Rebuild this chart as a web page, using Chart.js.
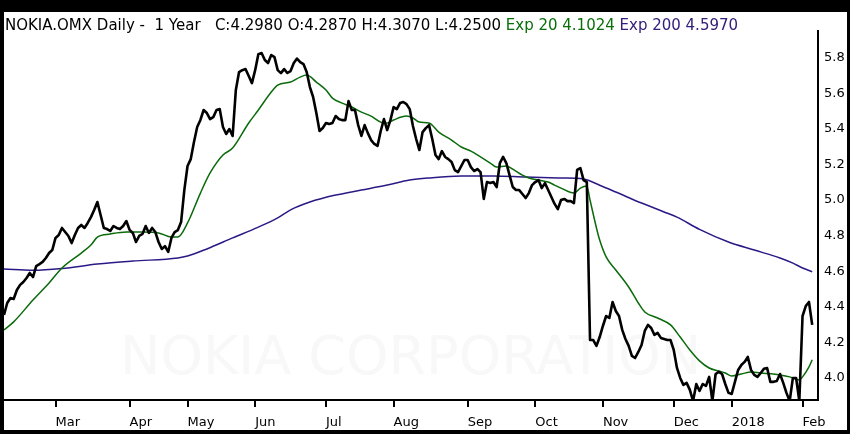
<!DOCTYPE html>
<html>
<head>
<meta charset="utf-8">
<script src="https://cdn.jsdelivr.net/npm/chart.js@4.4.1/dist/chart.umd.min.js"></script>
<style>
  html, body { margin: 0; padding: 0; background: #000; }
  canvas { display: block; }
</style>
</head>
<body>
<canvas id="c" width="850" height="434"></canvas>
<script>
// ---- Data (trading-day index 0 = early Feb 2017) ----
const closes = [
4.354,4.421,4.449,4.444,4.494,4.523,4.539,4.562,4.590,4.567,
4.629,4.640,4.652,4.674,4.702,4.719,4.787,4.803,4.843,4.820,
4.798,4.758,4.803,4.843,4.860,4.843,4.871,4.904,4.944,4.989,
4.916,4.843,4.837,4.826,4.854,4.843,4.837,4.854,4.882,4.832,
4.815,4.764,4.798,4.809,4.854,4.815,4.843,4.820,4.764,4.725,
4.741,4.708,4.787,4.820,4.831,4.876,5.056,5.191,5.230,5.326,
5.410,5.450,5.506,5.489,5.455,5.466,5.506,5.511,5.410,5.371,
5.399,5.360,5.618,5.719,5.730,5.736,5.697,5.657,5.730,5.820,
5.826,5.787,5.770,5.815,5.803,5.730,5.713,5.736,5.714,5.725,
5.770,5.795,5.775,5.764,5.719,5.635,5.579,5.489,5.388,5.405,
5.433,5.427,5.433,5.472,5.455,5.449,5.449,5.556,5.506,5.506,
5.421,5.360,5.421,5.376,5.337,5.315,5.304,5.388,5.455,5.393,
5.449,5.522,5.511,5.545,5.551,5.539,5.511,5.416,5.343,5.281,
5.382,5.404,5.421,5.343,5.253,5.230,5.275,5.242,5.230,5.214,
5.168,5.157,5.191,5.225,5.225,5.185,5.163,5.174,5.157,5.006,
5.101,5.096,5.101,5.073,5.208,5.242,5.208,5.140,5.073,5.056,
5.056,5.034,5.011,5.039,5.084,5.101,5.112,5.067,5.095,5.056,
5.017,4.978,4.949,5.000,5.006,4.994,4.994,4.983,5.169,5.180,
5.112,5.101,4.213,4.213,4.180,4.230,4.292,4.348,4.337,4.427,
4.376,4.348,4.270,4.219,4.180,4.124,4.112,4.146,4.185,4.264,
4.298,4.281,4.242,4.253,4.225,4.219,4.213,4.213,4.157,4.056,
4.000,3.961,3.972,3.933,3.870,3.966,3.927,3.966,3.955,4.006,
3.870,4.022,4.034,4.022,3.966,3.916,3.910,3.978,4.045,4.073,
4.090,4.118,4.045,4.017,4.006,4.028,4.051,4.056,3.978,3.978,
3.983,4.022,3.972,3.916,3.870,4.000,4.000,3.870,4.348,4.404,
4.427,4.298
];

const ema20Days = [0,3,9,14,18,24,27,29,33,38,43,48,52,54,57,61,64,68,71,76,79,83,85,89,92,94,97,100,102,105,108,111,114,117,119,121,125,127,129,132,135,139,142,145,148,151,153,156,158,161,163,166,169,171,173,177,179,181,182,184,185,187,190,194,197,199,203,207,210,213,216,219,222,224,226,229,232,235,239,241,244,247,248,250,251];
const ema20Vals = [4.270,4.315,4.438,4.534,4.618,4.702,4.747,4.792,4.809,4.820,4.820,4.815,4.792,4.792,4.871,5.039,5.152,5.253,5.292,5.433,5.506,5.607,5.646,5.663,5.691,5.702,5.663,5.618,5.573,5.545,5.523,5.494,5.472,5.438,5.433,5.450,5.472,5.461,5.438,5.433,5.382,5.337,5.298,5.275,5.242,5.208,5.185,5.191,5.174,5.140,5.124,5.112,5.101,5.084,5.067,5.039,5.067,5.079,5.000,4.843,4.775,4.680,4.607,4.511,4.421,4.371,4.337,4.298,4.230,4.157,4.096,4.056,4.039,4.028,4.011,4.022,4.034,4.028,4.022,4.017,4.006,3.989,4.006,4.062,4.1024];

const ema200Days = [0,9,18,29,40,54,57,63,71,79,85,89,95,103,111,119,126,132,142,152,162,173,180,185,190,198,205,209,216,225,233,241,245,248,251];
const ema200Vals = [4.612,4.605,4.615,4.640,4.657,4.674,4.685,4.725,4.787,4.848,4.900,4.945,4.989,5.028,5.056,5.084,5.112,5.124,5.135,5.135,5.129,5.124,5.118,5.083,5.045,4.983,4.933,4.904,4.835,4.764,4.719,4.674,4.645,4.618,4.597];

const monthTickDays = [16,39,57,78,100,121,144,165,186,208,226,248];
const monthTickLabels = ['Mar','Apr','May','Jun','Jul','Aug','Sep','Oct','Nov','Dec','2018','Feb'];
const yTickValues = [4.0,4.2,4.4,4.6,4.8,5.0,5.2,5.4,5.6,5.8];

const headerParts = [
  { text: 'NOKIA.OMX Daily -  1 Year   C:4.2980 O:4.2870 H:4.3070 L:4.2500 ', color: '#000000' },
  { text: 'Exp 20 4.1024 ', color: '#0a6e0a' },
  { text: 'Exp 200 4.5970', color: '#33207a' }
];
const watermark = 'NOKIA CORPORATION';

// ---- Plugins ----
const frame = {
  id: 'frame',
  beforeDraw(chart) {
    const ctx = chart.ctx;
    ctx.save();
    ctx.fillStyle = '#000';
    ctx.fillRect(0, 0, chart.width, chart.height);
    ctx.fillStyle = '#fff';
    ctx.fillRect(4, 12, 843, 418);
    // watermark
    ctx.fillStyle = '#f8f8f8';
    ctx.font = '54px "DejaVu Sans"';
    ctx.textBaseline = 'alphabetic';
    ctx.textAlign = 'left';
    ctx.fillText(watermark, 120, 374);
    // header
    ctx.font = '15px "DejaVu Sans"';
    let x = 5;
    for (const p of headerParts) {
      ctx.fillStyle = p.color;
      ctx.fillText(p.text, x, 30);
      x += ctx.measureText(p.text).width;
    }
    ctx.restore();
  }
};

const ctx = document.getElementById('c').getContext('2d');
new Chart(ctx, {
  type: 'line',
  data: {
    datasets: [
      {
        label: 'Close',
        data: closes.map((v, i) => ({ x: i, y: v })),
        borderColor: '#000',
        borderWidth: 2.6,
        pointRadius: 0,
        tension: 0,
        clip: 0,
        borderJoinStyle: 'round'
      },
      {
        label: 'Exp 20',
        data: ema20Days.map((d, i) => ({ x: d, y: ema20Vals[i] })),
        borderColor: '#0a6a0a',
        borderWidth: 1.5,
        pointRadius: 0,
        cubicInterpolationMode: 'monotone',
        clip: 0
      },
      {
        label: 'Exp 200',
        data: ema200Days.map((d, i) => ({ x: d, y: ema200Vals[i] })),
        borderColor: '#2b1a86',
        borderWidth: 1.5,
        pointRadius: 0,
        cubicInterpolationMode: 'monotone',
        clip: 0
      }
    ]
  },
  options: {
    responsive: false,
    animation: false,
    devicePixelRatio: 1,
    layout: { padding: { left: 4, top: 31, right: 3, bottom: 4 } },
    plugins: { legend: { display: false }, tooltip: { enabled: false } },
    scales: {
      x: {
        type: 'linear',
        position: 'bottom',
        min: 0,
        max: 252.8,
        afterBuildTicks(scale) { scale.ticks = monthTickDays.map(v => ({ value: v })); },
        afterFit(scale) { scale.height = 30; },
        grid: { drawOnChartArea: false, drawTicks: true, tickLength: 7, color: '#000', lineWidth: 2 },
        border: { display: true, color: '#000', width: 2 },
        ticks: {
          autoSkip: false,
          maxRotation: 0,
          minRotation: 0,
          align: 'start',
          padding: 8,
          color: '#000',
          font: { family: 'DejaVu Sans', size: 13 },
          callback(v) { const k = monthTickDays.indexOf(v); return k >= 0 ? monthTickLabels[k] : ''; }
        }
      },
      y: {
        type: 'linear',
        position: 'right',
        min: 3.876,
        max: 5.95,
        afterBuildTicks(scale) { scale.ticks = yTickValues.map(v => ({ value: v })); },
        afterFit(scale) { scale.width = 29; },
        grid: { drawOnChartArea: false, drawTicks: false },
        border: { display: true, color: '#000', width: 2 },
        ticks: {
          padding: 6,
          color: '#000',
          font: { family: 'DejaVu Sans', size: 13 },
          callback(v) { return Number(v).toFixed(1); }
        }
      }
    }
  },
  plugins: [frame]
});
</script>
</body>
</html>
